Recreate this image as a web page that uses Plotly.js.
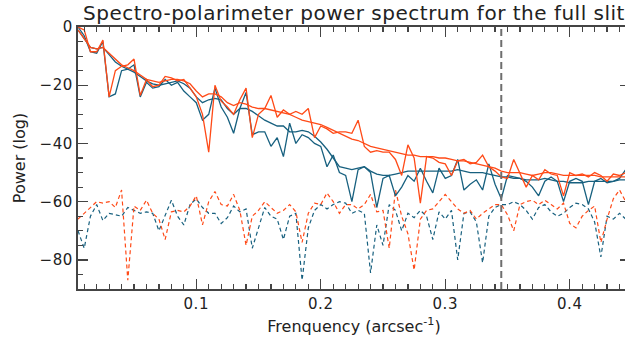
<!DOCTYPE html>
<html><head><meta charset="utf-8">
<script src="https://cdn.plot.ly/plotly-3.0.1.min.js"></script>
<style>
html,body{margin:0;padding:0;overflow:hidden;background:#fff}
#chart{width:632px;height:343px}
#chart .gtitle{letter-spacing:0.5px}
#chart .xtick text,#chart .ytick text{letter-spacing:0.6px}
</style>
</head><body><div id="chart"></div>
<script>
const freq = [0.005,0.010,0.015,0.020,0.025,0.030,0.035,0.040,0.045,0.050,
0.055,0.060,0.065,0.070,0.075,0.080,0.085,0.090,0.095,0.100,
0.105,0.110,0.115,0.120,0.125,0.130,0.135,0.140,0.145,0.150,
0.155,0.160,0.165,0.170,0.175,0.180,0.185,0.190,0.195,0.200,
0.205,0.210,0.215,0.220,0.225,0.230,0.235,0.240,0.245,0.250,
0.255,0.260,0.265,0.270,0.275,0.280,0.285,0.290,0.295,0.300,
0.305,0.310,0.315,0.320,0.325,0.330,0.335,0.340,0.345,0.350,
0.355,0.360,0.365,0.370,0.375,0.380,0.385,0.390,0.395,0.400,
0.405,0.410,0.415,0.420,0.425,0.430,0.435,0.440,0.445];

const orangeRaw = [0,-1,-8.5,-8.5,-4.5,-24,-15,-13.5,-13,-11,
-23.5,-18,-20.5,-20,-17,-17.5,-18.5,-18,-21,-24,
-30,-43,-20,-25.5,-27.5,-30,-25,-21,-38,-30,
-28,-23.5,-31,-28.5,-30,-29,-30,-28,-38,-34,
-35,-36.5,-36,-36,-36.5,-32,-41,-43,-42.5,-43,
-43,-45.5,-51,-40.5,-45,-60.5,-44.5,-45,-46.5,-47,
-51,-46,-45.5,-47,-46.5,-44,-48,-49.5,-51.5,-52,
-45.5,-50,-55,-51,-52.5,-49,-50.5,-51,-58,-50,
-51,-50.5,-51.5,-50,-51,-53,-50.5,-51,-50];

const orangeSmooth = [-1,-4,-7,-7.5,-7,-9,-11,-13,-14,-15,
-16.5,-18,-18.5,-19,-18.5,-18,-18,-18.5,-19.5,-22,
-24,-23,-23,-24,-26,-27,-26,-26.5,-27.5,-28,
-28,-28.5,-29,-29.5,-30,-31,-32,-32.5,-33,-33.5,
-34.5,-35.5,-36.5,-37.5,-38.5,-39,-40,-41,-41.5,-42,
-42.5,-43,-43.5,-44,-44,-44.5,-44.5,-44.5,-45,-45,
-45.5,-46,-46,-46.5,-47,-47.5,-48,-48.5,-49.5,-50,
-50,-50,-50.5,-51,-50.5,-50,-50,-50.5,-51,-51,
-51,-51,-51,-51,-51.5,-51.5,-51.5,-51.5,-51.5];

const blueRaw = [0,-3,-8.5,-9,-5,-24,-23,-15,-14.5,-13,
-24,-19,-21,-20.5,-18,-20,-19,-22,-24,-26,
-32,-30,-21,-27.5,-31,-36.5,-28,-22.5,-37,-36,
-36,-41,-38,-44.5,-33,-40,-37,-38,-40,-41,
-48,-44,-50,-51,-60,-49,-48,-50,-62,-52,
-51,-58,-55,-51,-53,-48.5,-53,-57,-48.5,-52,
-51,-45.5,-56,-54,-52.5,-56,-47,-54,-59,-51,
-51.5,-52,-53,-55,-58,-53,-51.5,-53,-60,-53,
-52,-53,-61,-53,-52,-53.5,-53,-52,-49];

const blueSmooth = [-1,-4,-7,-7.5,-7,-9.5,-12,-13.5,-14.5,-15.5,
-17,-18.5,-19.5,-20,-19.5,-19,-18.5,-19.5,-21,-24,
-26,-25,-24.5,-25,-28,-30,-28,-28,-29,-30.5,
-32,-33,-34,-34,-36,-36,-35.5,-36,-37.5,-39.5,
-42,-45,-48,-48.5,-49,-48.5,-48,-49.5,-50.5,-51,
-51,-50.5,-50,-49.5,-49.5,-49.5,-49.5,-49.5,-49.5,-49.5,
-49.5,-49,-49.5,-50,-50,-50,-50.5,-51,-51.5,-51.5,
-52,-52,-52.5,-52.5,-52.5,-52,-52.5,-53,-53,-53.5,
-53.5,-53.5,-53,-53,-53,-53,-53,-52.5,-52.5];

const blueNoise = [-70,-76,-65,-61,-66.5,-64,-64.5,-65,-62,-63,
-64,-63.5,-64,-70,-64.5,-59.5,-65,-68,-61,-59,
-62,-64,-64,-67.5,-65.5,-61.5,-63.5,-62.5,-76,-69,
-62,-65,-66,-73,-65,-64,-87,-69,-63,-61,
-62.5,-61,-60,-60.5,-64,-63,-64,-84.5,-68,-75,
-61,-63,-70,-64,-65.5,-63,-65,-73,-63.5,-66,
-63,-80,-64,-63.5,-67,-81,-65,-62,-61,-61,
-60,-61,-63,-66,-62,-61,-63.5,-65,-64,-62,
-60.5,-61,-62.5,-67,-79,-65,-66,-64,-66];

const orangeNoise = [-66,-64,-62,-60,-60.5,-60,-62,-56,-87,-61.5,
-63,-59.5,-64,-66,-73,-63.5,-63,-63.5,-61.5,-58,
-68,-60,-56.5,-61,-61.5,-57.5,-63,-75,-65,-63,
-60,-62,-64,-63,-61,-63.5,-74,-64,-60.5,-61,
-57,-60,-64,-61,-61,-62.5,-61,-57.5,-63.5,-63,
-76,-56,-65,-71,-83.5,-66,-63,-62.5,-60,-57.5,
-60,-62.5,-64,-63,-66,-64,-62.5,-61,-61,-64.5,
-70,-61,-60,-59.5,-61,-59.5,-61,-62.5,-60.5,-67.5,
-69,-65,-63,-61.5,-74,-66,-59,-56,-60];

const cutoffFreq = 0.345;
const xTickVals = [0.1,0.2,0.3,0.4];
const yTickVals = [0,-20,-40,-60,-80];

const ORANGE = '#ff4a17';
const BLUE = '#17607f';

const traces = [
  {x: freq, y: blueNoise, mode:'lines', line:{color:BLUE, width:1.2, dash:'4px,3px'}},
  {x: freq, y: orangeNoise, mode:'lines', line:{color:ORANGE, width:1.2, dash:'4px,3px'}},
  {x: freq, y: blueRaw, mode:'lines', line:{color:BLUE, width:1.3}},
  {x: freq, y: blueSmooth, mode:'lines', line:{color:BLUE, width:1.3}},
  {x: freq, y: orangeRaw, mode:'lines', line:{color:ORANGE, width:1.3}},
  {x: freq, y: orangeSmooth, mode:'lines', line:{color:ORANGE, width:1.3}}
];

const FONT = 'DejaVu Sans, sans-serif';
const axisCommon = {
  showgrid:false, zeroline:false, showline:true, linecolor:'#444', linewidth:2,
  mirror:'ticks', ticks:'inside', tickcolor:'#444', tickwidth:1.3, ticklen:10,
  tickfont:{family:FONT, size:15, color:'#222'}
};

const layout = {
  width:632, height:343,
  margin:{l:78, r:2, t:27, b:54},
  paper_bgcolor:'#fff', plot_bgcolor:'#fff',
  showlegend:false,
  title:{text:'Spectro-polarimeter power spectrum for the full slit', x:0.5, xref:'paper', xanchor:'center', y:0.962, yanchor:'middle',
    font:{family:FONT, size:20, color:'#222'}},
  xaxis: Object.assign({}, axisCommon, {
    range:[0.005, 0.4484], tickvals:xTickVals, ticktext:xTickVals.map(String),
    minor:{dtick:0.01, tick0:0, ticks:'inside', ticklen:5, tickcolor:'#444', tickwidth:1.2, showgrid:false},
    title:{text:'Frenquency (arcsec<sup>-1</sup>)', standoff:9, font:{family:FONT, size:16, color:'#222'}}
  }),
  yaxis: Object.assign({}, axisCommon, {
    range:[-90, 0], tickvals:yTickVals,
    minor:{dtick:5, tick0:0, ticks:'inside', ticklen:5, tickcolor:'#444', tickwidth:1.2, showgrid:false},
    title:{text:'Power (log)', standoff:12, font:{family:FONT, size:16, color:'#222'}}
  }),
  shapes:[{type:'line', xref:'x', yref:'paper', x0:cutoffFreq, x1:cutoffFreq, y0:0, y1:1,
    line:{color:'#6e6e6e', width:2, dash:'7px,4px'}}]
};

Plotly.newPlot('chart', traces, layout, {displayModeBar:false, staticPlot:true});
</script>
</body></html>
